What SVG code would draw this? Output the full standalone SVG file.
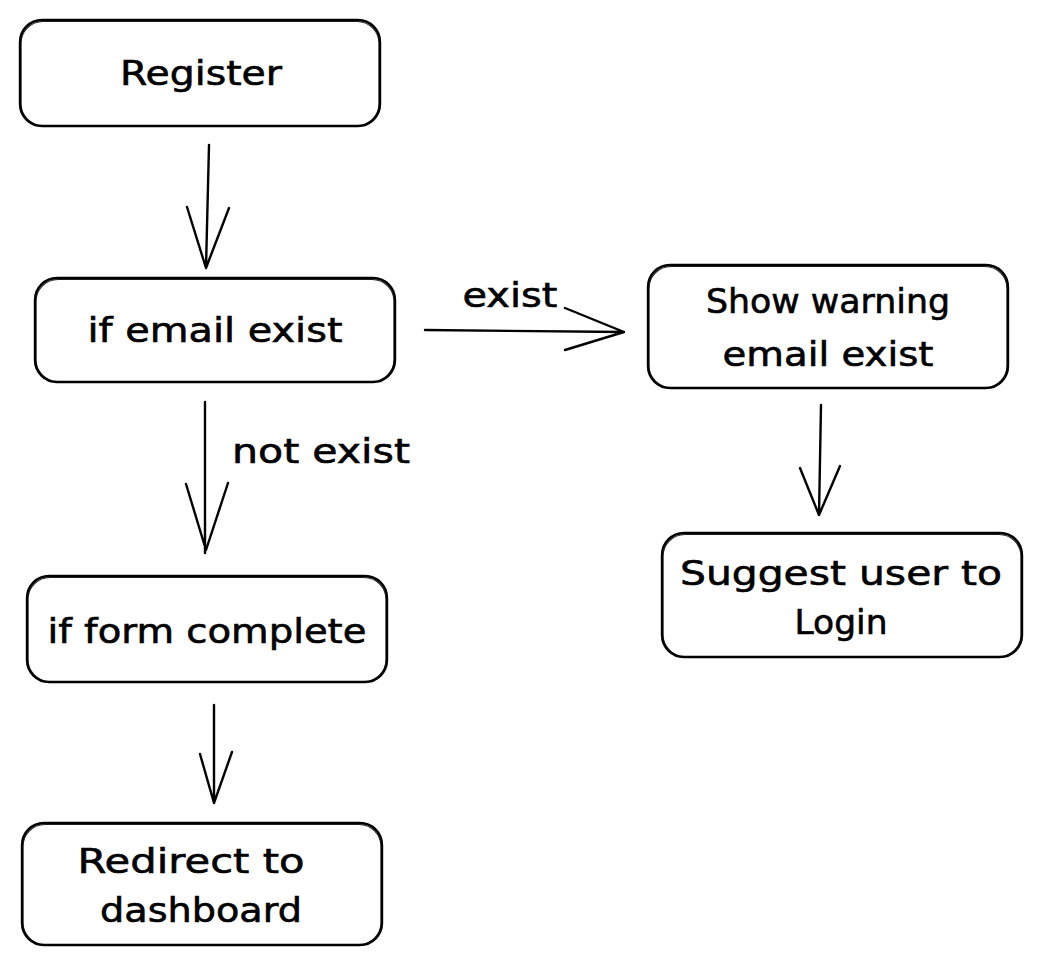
<svg xmlns="http://www.w3.org/2000/svg" width="1041" height="966" viewBox="0 0 1041 966">
<style>
.box{fill:none;stroke:#000;stroke-width:2.4;stroke-linejoin:round}
.box2{fill:none;stroke:#000;stroke-width:1.2;opacity:0.85}
.lbl{font-family:"DejaVu Sans","Liberation Sans",sans-serif;font-size:34px;fill:#000;stroke:#000;stroke-width:0.6;text-anchor:middle}
.con{fill:none;stroke:#000;stroke-width:2.4;stroke-linecap:round;stroke-linejoin:round}
</style>
<rect width="1041" height="966" fill="#ffffff"/>
<g id="register">
<rect class="box" x="20" y="20" width="360" height="106" rx="22"/>
<rect class="box2" x="21" y="21.5" width="358" height="104" rx="22"/>
<text class="lbl" x="201" y="85" textLength="162" lengthAdjust="spacingAndGlyphs">Register</text>
</g>
<g id="email-exist">
<rect class="box" x="35" y="278" width="360" height="104" rx="22"/>
<rect class="box2" x="36" y="279.5" width="358" height="102" rx="22"/>
<text class="lbl" x="215" y="342" textLength="255" lengthAdjust="spacingAndGlyphs">if email exist</text>
</g>
<g id="show-warning">
<rect class="box" x="648" y="265" width="360" height="123" rx="22"/>
<rect class="box2" x="649" y="266.5" width="358" height="121" rx="22"/>
<text class="lbl" x="828" y="313" textLength="244" lengthAdjust="spacingAndGlyphs">Show warning</text>
<text class="lbl" x="828" y="366" textLength="211" lengthAdjust="spacingAndGlyphs">email exist</text>
</g>
<g id="suggest-login">
<rect class="box" x="662" y="533" width="360" height="124" rx="22"/>
<rect class="box2" x="663" y="534.5" width="358" height="122" rx="22"/>
<text class="lbl" x="841" y="585" textLength="322" lengthAdjust="spacingAndGlyphs">Suggest user to</text>
<text class="lbl" x="841" y="634" textLength="93" lengthAdjust="spacingAndGlyphs">Login</text>
</g>
<g id="form-complete">
<rect class="box" x="27" y="576" width="360" height="106" rx="22"/>
<rect class="box2" x="28" y="577.5" width="358" height="104" rx="22"/>
<text class="lbl" x="207" y="643" textLength="319" lengthAdjust="spacingAndGlyphs">if form complete</text>
</g>
<g id="redirect-dashboard">
<rect class="box" x="22" y="823" width="360" height="122" rx="22"/>
<rect class="box2" x="23" y="824.5" width="358" height="120" rx="22"/>
<text class="lbl" x="191" y="873" textLength="227" lengthAdjust="spacingAndGlyphs">Redirect to</text>
<text class="lbl" x="201" y="922" textLength="202" lengthAdjust="spacingAndGlyphs">dashboard</text>
</g>
<g id="connectors">
<path class="con" d="M209 145 L206 268 M187 207 L206 268 L229 208"/>
<path class="con" d="M425 330 L624 332 M565 308 L624 332 L565 350"/>
<path class="con" d="M821 405 L819 515 M800 468 L819 515 L840 466"/>
<path class="con" d="M205 402 L205 553 M186 484 L206 550 L228 483"/>
<path class="con" d="M214 705 L214 803 M200 754 L214 803 L232 752"/>
<text class="lbl" x="510" y="307" textLength="95" lengthAdjust="spacingAndGlyphs">exist</text>
<text class="lbl" x="321" y="463" textLength="178" lengthAdjust="spacingAndGlyphs">not exist</text>
</g>
</svg>
